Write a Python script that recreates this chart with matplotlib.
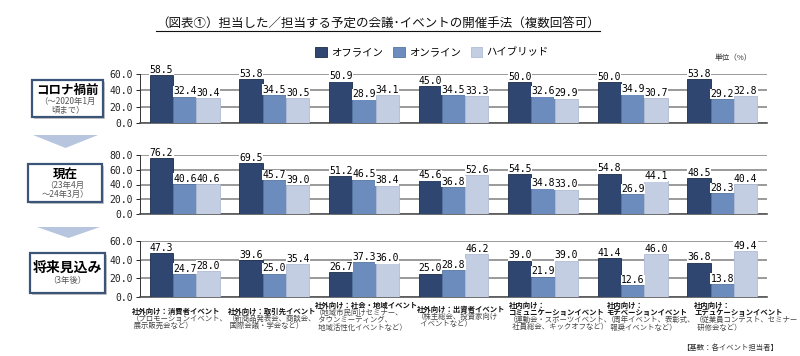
import matplotlib
matplotlib.use("Agg")
import matplotlib.pyplot as plt
import numpy as np
from matplotlib.patches import Rectangle, Polygon
from matplotlib.lines import Line2D
from matplotlib.transforms import blended_transform_factory

plt.rcParams['font.family'] = ['Noto Sans CJK JP', 'DejaVu Sans']

# データ
series = ['オフライン', 'オンライン', 'ハイブリッド']
colors = ['#2f4770', '#6b8cbd', '#c4cee3']
edges = ['#1c2c48', '#56759f', '#b0bcd4']

pre_off = [58.5, 53.8, 50.9, 45.0, 50.0, 50.0, 53.8]
pre_on = [32.4, 34.5, 28.9, 34.5, 32.6, 34.9, 29.2]
pre_hy = [30.4, 30.5, 34.1, 33.3, 29.9, 30.7, 32.8]

now_off = [76.2, 69.5, 51.2, 45.6, 54.5, 54.8, 48.5]
now_on = [40.6, 45.7, 46.5, 36.8, 34.8, 26.9, 28.3]
now_hy = [40.6, 39.0, 38.4, 52.6, 33.0, 44.1, 40.4]

fut_off = [47.3, 39.6, 26.7, 25.0, 39.0, 41.4, 36.8]
fut_on = [24.7, 25.0, 37.3, 28.8, 21.9, 12.6, 13.8]
fut_hy = [28.0, 35.4, 36.0, 46.2, 39.0, 46.0, 49.4]

cat_lines = [
    ['社外向け：消費者イベント', '（プロモーションイベント、', ' 展示販売会など）'],
    ['社外向け：取引先イベント', '（新商品発表会、商談会、', ' 国際会議・学会など）'],
    ['社外向け：社会・地域イベント', '（地域市民向けセミナー、', '  タウンミーティング、', '  地域活性化イベントなど）'],
    ['社外向け：出資者イベント', '（株主総会、投資家向け', '  イベントなど）'],
    ['社内向け：', 'コミュニケーションイベント', '（運動会・スポーツイベント、', '  社員総会、キックオフなど）'],
    ['社内向け：', 'モチベーションイベント', '（周年イベント、表彰式、', '  報奨イベントなど）'],
    ['社内向け：', 'エデュケーションイベント', '（従業員コンテスト、セミナー', '  研修会など）'],
]
n_bold = [1, 1, 1, 1, 2, 2, 2]

panels = [
    ('コロナ禍前', ['（～2020年1月', '頃まで）'], [pre_off, pre_on, pre_hy], 60),
    ('現在', ['（23年4月', '～24年3月）'], [now_off, now_on, now_hy], 80),
    ('将来見込み', ['（3年後）'], [fut_off, fut_on, fut_hy], 60),
]

W, H = 800, 356
fig = plt.figure(figsize=(8, 3.56), dpi=100)
fig.patch.set_facecolor('white')

def fx(px):
    return px / W

def fy(py):
    return 1 - py / H

# panel placement (pixel): top, bottom
ax_pos = [(74, 123), (155, 214), (241, 297)]
box_pos = [(32, 80, 103, 117), (28, 164, 102, 202), (30, 253, 105, 293)]
ax_left, ax_right = 140, 767

x = np.arange(7)
bw = 0.26
axes = []
for k, (name, sub, vals, ymax) in enumerate(panels):
    top, bot = ax_pos[k]
    ax = fig.add_axes([fx(ax_left), fy(bot), fx(ax_right - ax_left), (bot - top) / H])
    axes.append(ax)
    for j in range(3):
        ax.bar(x + (j - 1) * bw, vals[j], bw, color=colors[j], edgecolor=edges[j],
               linewidth=0.6, zorder=3, label=series[j])
        for xi, v in zip(x + (j - 1) * bw, vals[j]):
            ax.text(xi, v + 0.3, f'{v:.1f}', ha='center', va='bottom', fontsize=7,
                    family='DejaVu Sans Mono', zorder=5,
                    bbox=dict(fc='white', ec='none', pad=0.3))
    ax.set_xlim(-0.5, 6.5)
    ax.set_ylim(0, ymax)
    ax.set_yticks(np.arange(0, ymax + 1, 20))
    ax.set_yticklabels([f'{t:.1f}' for t in np.arange(0, ymax + 1, 20)],
                       family='DejaVu Sans Mono', fontsize=7)
    ax.set_xticks([])
    ax.yaxis.grid(True, color='#9a9a9a', linewidth=1.4, zorder=0)
    ax.set_axisbelow(True)
    for s in ['top', 'right']:
        ax.spines[s].set_visible(False)
    ax.spines['left'].set_color('#333333')
    ax.spines['left'].set_linewidth(0.7)
    ax.spines['bottom'].set_color('#555555')
    ax.spines['bottom'].set_linewidth(1.2)
    ax.tick_params(axis='y', length=3, width=0.7, pad=2, colors='#222222')
    ax.set_facecolor('none')

    # left box
    x0, y0, x1, y1 = box_pos[k]
    fig.patches.append(Rectangle((fx(x0 + 2), fy(y1 + 2)), fx(x1 - x0), (y1 - y0) / H,
                                 transform=fig.transFigure, fc='#c8c8c8', ec='none', zorder=1))
    fig.patches.append(Rectangle((fx(x0), fy(y1)), fx(x1 - x0), (y1 - y0) / H,
                                 transform=fig.transFigure, fc='white', ec='#3b5578',
                                 lw=1.6, zorder=2))
    cx = (x0 + x1) / 2
    if len(sub) == 2:
        fig.text(fx(cx), fy(y0 + 10), name, ha='center', va='center', fontsize=9,
                 fontweight='bold', zorder=3)
        fig.text(fx(cx), fy(y0 + 21), sub[0], ha='center', va='center', fontsize=6,
                 color='#555555', zorder=3)
        fig.text(fx(cx), fy(y0 + 30), sub[1], ha='center', va='center', fontsize=6,
                 color='#555555', zorder=3)
    else:
        fig.text(fx(cx), fy(y0 + 15), name, ha='center', va='center', fontsize=10,
                 fontweight='bold', zorder=3)
        fig.text(fx(cx), fy(y0 + 28), sub[0], ha='center', va='center', fontsize=6,
                 color='#555555', zorder=3)

# arrows between boxes
for (ax0, ay0, ax1, ay1) in [(33, 135, 98, 148), (37, 227, 100, 238)]:
    fig.patches.append(Polygon([(fx(ax0), fy(ay0)), (fx(ax1), fy(ay0)),
                                (fx((ax0 + ax1) / 2), fy(ay1))], closed=True,
                               transform=fig.transFigure, fc='#b7c6de', ec='none'))

# category labels under bottom panel
ax3 = axes[2]
tr = blended_transform_factory(ax3.transData, fig.transFigure)
lab_off = [-0.59, -0.52, -0.55, -0.41, -0.38, -0.29, -0.31]
lab_top = [311, 311, 305, 309, 305, 305, 305]
for i, lines in enumerate(cat_lines):
    for li, t in enumerate(lines):
        bold = li < n_bold[i]
        ax3.text(i + lab_off[i], fy(lab_top[i] + li * 7.5), t, transform=tr,
                 ha='left', va='center', fontsize=5.3,
                 fontweight='bold' if bold else 'normal',
                 color='#111111' if bold else '#444444', clip_on=False)

# legend
handles, labels = axes[0].get_legend_handles_labels()
fig.legend(handles, labels, loc='center', bbox_to_anchor=(fx(432), fy(52)), ncol=3,
           frameon=False, fontsize=7.5, handlelength=1.1, handleheight=1.1,
           handletextpad=0.4, columnspacing=1.0)

fig.text(fx(752), fy(58), '単位（%）', ha='right', va='center', fontsize=5.5, color='#333333')
fig.text(fx(778), fy(348), '【基数：各イベント担当者】', ha='right', va='center', fontsize=5.3,
         color='#333333')

title = fig.text(fx(378), fy(23), '（図表①）担当した／担当する予定の会議･イベントの開催手法（複数回答可）',
                 ha='center', va='center', fontsize=9, color='#111111')
fig.canvas.draw()
bb = title.get_window_extent(fig.canvas.get_renderer())
uy = (bb.y0 - 1) / H
fig.lines.append(Line2D([bb.x0 / W, bb.x1 / W], [uy, uy], transform=fig.transFigure,
                        color='#111111', lw=0.8))

fig.savefig('out.png', dpi=100)
